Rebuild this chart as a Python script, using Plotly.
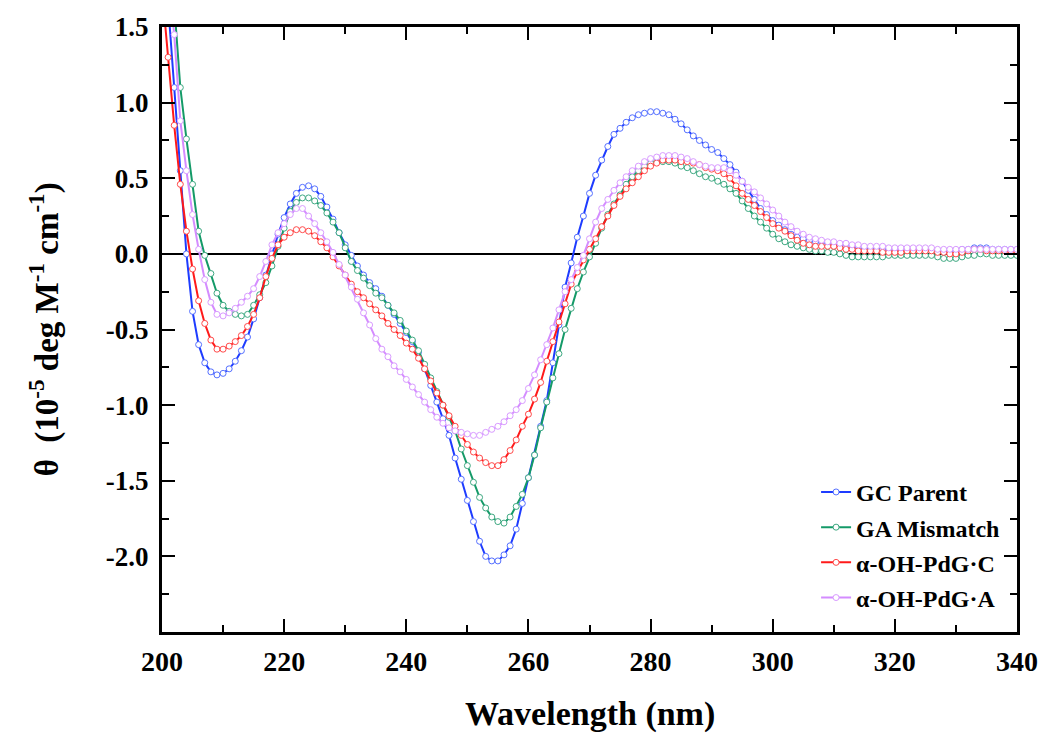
import plotly.graph_objects as go

wavelength = list(range(200, 341))

gc_parent = [
    2.20, 1.68, 1.10, 0.55, 0.00, -0.38, -0.60, -0.72, -0.78, -0.80,
    -0.79, -0.76, -0.71, -0.64, -0.55, -0.43, -0.29, -0.14, 0.00, 0.13,
    0.24, 0.33, 0.40, 0.44, 0.45, 0.43, 0.38, 0.31, 0.23, 0.14,
    0.06, -0.01, -0.08, -0.14, -0.19, -0.23, -0.28, -0.34, -0.40, -0.46,
    -0.52, -0.58, -0.65, -0.76, -0.87, -0.98, -1.09, -1.20, -1.35, -1.49,
    -1.63, -1.77, -1.90, -2.00, -2.03, -2.03, -1.99, -1.93, -1.82, -1.65,
    -1.48, -1.33, -1.14, -0.97, -0.72, -0.47, -0.22, -0.06, 0.11, 0.25,
    0.40, 0.52, 0.62, 0.71, 0.79, 0.83, 0.87, 0.90, 0.92, 0.93,
    0.94, 0.94, 0.93, 0.92, 0.89, 0.86, 0.82, 0.78, 0.75, 0.72,
    0.69, 0.67, 0.63, 0.59, 0.54, 0.48, 0.42, 0.36, 0.30, 0.26,
    0.22, 0.19, 0.16, 0.13, 0.11, 0.10, 0.09, 0.08, 0.08, 0.07,
    0.06, 0.05, 0.05, 0.04, 0.04, 0.04, 0.03, 0.03, 0.03, 0.03,
    0.03, 0.03, 0.03, 0.03, 0.03, 0.03, 0.03, 0.02, 0.02, 0.02,
    0.02, 0.03, 0.03, 0.04, 0.04, 0.04, 0.03, 0.03, 0.03, 0.03,
    0.03,
]

ga_mismatch = [
    2.75, 2.20, 1.65, 1.10, 0.76, 0.46, 0.15, -0.01, -0.13, -0.26,
    -0.34, -0.38, -0.40, -0.41, -0.40, -0.34, -0.27, -0.19, -0.08, 0.05,
    0.17, 0.28, 0.34, 0.37, 0.37, 0.35, 0.32, 0.27, 0.21, 0.14,
    0.04, -0.05, -0.11, -0.16, -0.21, -0.26, -0.29, -0.34, -0.39, -0.44,
    -0.51, -0.57, -0.64, -0.73, -0.82, -0.91, -1.00, -1.08, -1.17, -1.29,
    -1.40, -1.51, -1.61, -1.68, -1.74, -1.77, -1.78, -1.74, -1.67, -1.59,
    -1.48, -1.33, -1.15, -0.98, -0.82, -0.66, -0.50, -0.36, -0.23, -0.12,
    -0.02, 0.07, 0.17, 0.26, 0.33, 0.39, 0.46, 0.51, 0.55, 0.58,
    0.60, 0.61, 0.61, 0.61, 0.60, 0.58, 0.57, 0.55, 0.53, 0.51,
    0.50, 0.48, 0.46, 0.43, 0.40, 0.35, 0.30, 0.25, 0.21, 0.17,
    0.13, 0.10, 0.08, 0.06, 0.05, 0.04, 0.03, 0.02, 0.02, 0.01,
    0.01, 0.00, -0.01, -0.02, -0.02, -0.02, -0.02, -0.02, -0.02, -0.01,
    -0.01, -0.01, -0.01, -0.01, -0.01, -0.01, -0.01, -0.02, -0.03, -0.03,
    -0.03, -0.02, -0.01, -0.01, 0.00, 0.00, -0.01, -0.01, -0.01, -0.01,
    -0.01,
]

oh_pdg_c = [
    1.75, 1.30, 0.85, 0.46, 0.15, -0.10, -0.31, -0.46, -0.57, -0.63,
    -0.63, -0.61, -0.58, -0.54, -0.48, -0.40, -0.29, -0.15, -0.03, 0.06,
    0.11, 0.14, 0.16, 0.16, 0.15, 0.12, 0.08, 0.04, -0.02, -0.08,
    -0.14, -0.20, -0.25, -0.29, -0.33, -0.37, -0.41, -0.46, -0.50, -0.54,
    -0.59, -0.63, -0.69, -0.76, -0.84, -0.92, -1.00, -1.07, -1.14, -1.20,
    -1.26, -1.31, -1.35, -1.38, -1.40, -1.40, -1.36, -1.30, -1.23, -1.14,
    -1.06, -0.96, -0.85, -0.71, -0.58, -0.45, -0.33, -0.20, -0.12, -0.04,
    0.03, 0.10, 0.18, 0.25, 0.32, 0.38, 0.43, 0.47, 0.51, 0.55,
    0.58, 0.60, 0.62, 0.62, 0.62, 0.61, 0.61, 0.60, 0.59, 0.57,
    0.56, 0.55, 0.53, 0.50, 0.45, 0.40, 0.36, 0.32, 0.28, 0.24,
    0.20, 0.17, 0.15, 0.12, 0.09, 0.07, 0.06, 0.05, 0.05, 0.05,
    0.05, 0.04, 0.03, 0.03, 0.02, 0.02, 0.02, 0.02, 0.01, 0.01,
    0.01, 0.01, 0.02, 0.02, 0.02, 0.02, 0.02, 0.01, 0.01, 0.00,
    0.00, 0.01, 0.02, 0.03, 0.03, 0.02, 0.02, 0.02, 0.02, 0.02,
    0.02,
]

oh_pdg_a = [
    2.40, 1.85, 1.45, 0.88, 0.55, 0.26, 0.03, -0.17, -0.32, -0.40,
    -0.41, -0.39, -0.36, -0.32, -0.28, -0.23, -0.15, -0.05, 0.06, 0.14,
    0.20, 0.26, 0.30, 0.30, 0.25, 0.20, 0.14, 0.08, 0.01, -0.07,
    -0.14, -0.22, -0.30, -0.39, -0.47, -0.56, -0.63, -0.68, -0.74, -0.78,
    -0.83, -0.88, -0.93, -0.98, -1.03, -1.08, -1.12, -1.15, -1.17, -1.18,
    -1.19, -1.20, -1.20, -1.18, -1.16, -1.14, -1.11, -1.07, -1.03, -0.97,
    -0.89, -0.80, -0.70, -0.60, -0.49, -0.37, -0.25, -0.17, -0.09, -0.01,
    0.10, 0.21, 0.30, 0.36, 0.42, 0.47, 0.51, 0.55, 0.58, 0.61,
    0.63, 0.64, 0.65, 0.65, 0.65, 0.64, 0.63, 0.61, 0.59, 0.58,
    0.57, 0.57, 0.57, 0.55, 0.52, 0.48, 0.44, 0.41, 0.37, 0.33,
    0.29, 0.25, 0.21, 0.18, 0.15, 0.13, 0.11, 0.10, 0.09, 0.08,
    0.08, 0.07, 0.07, 0.06, 0.06, 0.05, 0.05, 0.05, 0.05, 0.04,
    0.04, 0.04, 0.04, 0.04, 0.04, 0.04, 0.04, 0.03, 0.03, 0.03,
    0.03, 0.03, 0.03, 0.03, 0.03, 0.03, 0.03, 0.03, 0.03, 0.03,
    0.03,
]

series_names = ["GC Parent", "GA Mismatch", "\u03b1-OH-PdG\u00b7C", "\u03b1-OH-PdG\u00b7A"]
series_values = [gc_parent, ga_mismatch, oh_pdg_c, oh_pdg_a]
line_colors = ["#1e3cff", "#149a68", "#ff1a1a", "#d48cff"]
marker_colors = ["#5570ff", "#3fa982", "#ff4a4a", "#d99cff"]

y_tickvals = [-2.0, -1.5, -1.0, -0.5, 0.0, 0.5, 1.0, 1.5]
y_ticktext = ["-2.0", "-1.5", "-1.0", "-0.5", "0.0", "0.5", "1.0", "1.5"]
x_tickvals = [200, 220, 240, 260, 280, 300, 320, 340]

FONT = "Liberation Serif"

fig = go.Figure()
for i, (name, vals) in enumerate(zip(series_names, series_values)):
    fig.add_trace(go.Scatter(
        x=wavelength, y=vals, name=name, mode="lines+markers",
        legendgroup=f"g{i}",
        line=dict(color=line_colors[i], width=2),
        marker=dict(symbol="circle", size=6, color="white",
                    line=dict(color=marker_colors[i], width=1)),
    ))

fig.update_layout(
    width=1050, height=741,
    margin=dict(l=162, r=26, t=18, b=109),
    paper_bgcolor="white", plot_bgcolor="white",
    font=dict(family=FONT, color="black"),
    showlegend=True,
    legend=dict(
        x=0.765, y=0.268, xanchor="left", yanchor="top",
        bgcolor="rgba(0,0,0,0)", borderwidth=0,
        font=dict(family=FONT, size=24, weight="bold", color="black"),
        traceorder="grouped", tracegroupgap=1,
    ),
)

fig.update_xaxes(
    range=[200, 340], tickvals=x_tickvals,
    showline=True, linewidth=3, linecolor="black", mirror="allticks",
    ticks="inside", ticklen=13, tickwidth=2, tickcolor="black",
    minor=dict(tick0=200, dtick=10, ticks="inside", ticklen=7, tickwidth=2, tickcolor="black"),
    tickfont=dict(family=FONT, size=28, weight="bold"),
    ticklabelstandoff=2,
    showgrid=False, zeroline=False,
)
fig.update_yaxes(
    range=[-2.5, 1.5], tickvals=y_tickvals, ticktext=y_ticktext,
    showline=True, linewidth=3, linecolor="black", mirror="allticks",
    ticks="inside", ticklen=13, tickwidth=2, tickcolor="black",
    minor=dict(tick0=-2.5, dtick=0.25, ticks="inside", ticklen=7, tickwidth=2, tickcolor="black"),
    tickfont=dict(family=FONT, size=27, weight="bold"),
    ticklabelstandoff=5,
    showgrid=False,
    zeroline=True, zerolinecolor="black", zerolinewidth=2,
)

fig.add_annotation(
    text="Wavelength (nm)", xref="paper", yref="paper",
    x=0.5, y=-0.135, xanchor="center", yanchor="middle", showarrow=False,
    font=dict(family=FONT, size=34, weight="bold"),
)
fig.add_annotation(
    text="\u03b8  (10<sup>-5</sup> deg M<sup>-1</sup> cm<sup>-1</sup>)",
    xref="paper", yref="paper", x=-0.137, y=0.5, textangle=-90,
    xanchor="center", yanchor="middle", showarrow=False,
    font=dict(family=FONT, size=33, weight="bold"),
)

fig.write_html("out.html", config={"displayModeBar": False},
               post_script="document.body.style.margin='0';")
